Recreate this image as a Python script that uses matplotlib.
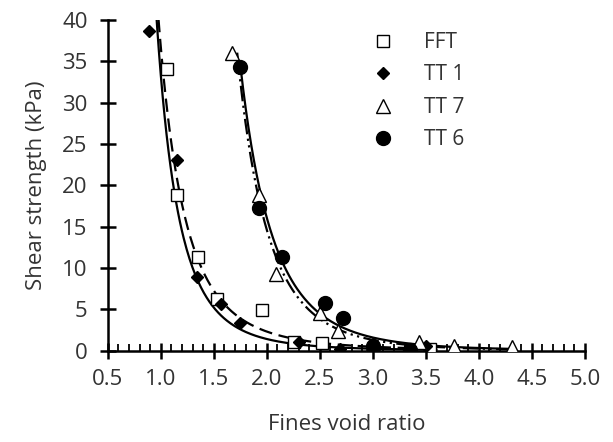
import numpy as np
import matplotlib.pyplot as plt
from matplotlib.ticker import MultipleLocator

plt.rcParams['font.family'] = ['Open Sans', 'DejaVu Sans']

# measured points (fines void ratio, shear strength kPa)
fft_e = [1.06, 1.15, 1.35, 1.53, 1.95, 2.26, 2.52, 3.54]
fft_su = [34.0, 18.8, 11.3, 6.2, 4.9, 1.0, 0.9, 0.2]

tt1_e = [0.89, 1.15, 1.34, 1.57, 1.75, 2.30, 2.69, 2.99, 3.50]
tt1_su = [38.7, 23.0, 8.9, 5.6, 3.3, 1.0, 0.2, 0.3, 0.5]

tt7_e = [1.67, 1.93, 2.09, 2.50, 2.67, 3.00, 3.44, 3.77, 4.31]
tt7_su = [36.0, 18.8, 9.3, 4.5, 2.4, 0.8, 1.0, 0.6, 0.4]

tt6_e = [1.75, 1.93, 2.14, 2.55, 2.72, 3.00, 3.35]
tt6_su = [34.3, 17.2, 11.3, 5.8, 3.9, 0.6, 0.1]

# power-law fits su = a * e^-b  (a, b, e from, e to, line style)
fits = {
    'FFT': (33.2, 4.58, 0.9, 3.6, '-'),
    'TT 1': (36.6, 4.0, 0.9, 3.6, (0, (6, 3))),
    'TT 7': (933.0, 6.0, 1.72, 4.3, (0, (7, 2, 1, 2, 1, 2))),
    'TT 6': (851.0, 5.73, 1.75, 4.3, '-'),
}

fig, ax = plt.subplots(figsize=(6.13, 4.42), dpi=100)
fig.subplots_adjust(left=0.176, right=0.954, top=0.955, bottom=0.207)

for name, (a, b, e0, e1, ls) in fits.items():
    e = np.linspace(e0, e1, 300)
    ax.plot(e, a * e ** -b, color='black', lw=1.6, ls=ls, zorder=2)

ax.plot(fft_e, fft_su, 's', ms=8, mfc='white', mec='black', mew=1.0, ls='none', label='FFT', zorder=3)
ax.plot(tt1_e, tt1_su, 'D', ms=6, color='black', ls='none', label='TT 1', zorder=3)
ax.plot(tt7_e, tt7_su, '^', ms=10, mfc='white', mec='black', mew=1.0, ls='none', label='TT 7', zorder=3)
ax.plot(tt6_e, tt6_su, 'o', ms=10, color='black', ls='none', label='TT 6', zorder=3)

ax.set_xlim(0.5, 5.0)
ax.set_ylim(0, 40)
ax.xaxis.set_major_locator(MultipleLocator(0.5))
ax.xaxis.set_minor_locator(MultipleLocator(0.1))
ax.yaxis.set_major_locator(MultipleLocator(5))
ax.xaxis.set_major_formatter(lambda v, p: f'{v:.1f}')

for s in ['top', 'right']:
    ax.spines[s].set_visible(False)
for s in ['left', 'bottom']:
    ax.spines[s].set_linewidth(1.8)

ax.tick_params(which='major', direction='inout', length=11, width=1.8, labelsize=16,
               color='black', labelcolor='#333333')
ax.tick_params(axis='x', which='major', pad=8)
ax.tick_params(axis='y', which='major', pad=9)
ax.tick_params(axis='x', which='minor', direction='in', length=5, width=1.3)

ax.set_xlabel('Fines void ratio', fontsize=16, labelpad=17, color='#333333')
ax.set_ylabel('Shear strength (kPa)', fontsize=16, labelpad=11, color='#333333')

ax.legend(loc='upper left', bbox_to_anchor=(0.505, 1.02), frameon=False, fontsize=15,
          handletextpad=1.2, labelspacing=0.55, handlelength=1.5, labelcolor='#333333')

fig.savefig('out.png', dpi=100)
